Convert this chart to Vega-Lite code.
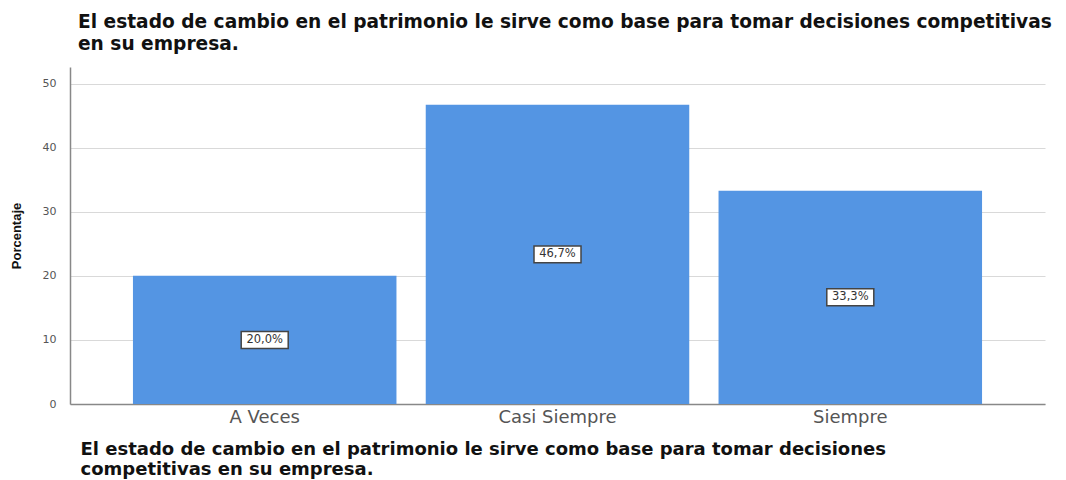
{
  "$schema": "https://vega.github.io/schema/vega-lite/v6.json",
  "width": 975,
  "height": 337,
  "autosize": {"type": "none"},
  "padding": {"left": 70, "top": 67, "right": 21, "bottom": 76},
  "background": "white",
  "title": {
    "text": ["El estado de cambio en el patrimonio le sirve como base para tomar decisiones competitivas", "en su empresa."],
    "anchor": "start",
    "frame": "group",
    "dx": 8,
    "offset": 13,
    "font": "DejaVu Sans",
    "fontSize": 18.6,
    "fontWeight": "bold",
    "color": "#111111",
    "lineHeight": 22
  },
  "data": {
    "values": [
      {"categoria": "A Veces", "porcentaje": 20.0, "etiqueta": "20,0%"},
      {"categoria": "Casi Siempre", "porcentaje": 46.7, "etiqueta": "46,7%"},
      {"categoria": "Siempre", "porcentaje": 33.3, "etiqueta": "33,3%"}
    ]
  },
  "config": {
    "view": {"stroke": null},
    "font": "DejaVu Sans"
  },
  "encoding": {
    "x": {
      "field": "categoria",
      "type": "nominal",
      "sort": null,
      "scale": {"paddingInner": 0.1, "paddingOuter": 0.215},
      "axis": {
        "title": ["El estado de cambio en el patrimonio le sirve como base para tomar decisiones", "competitivas en su empresa."],
        "titleAnchor": "start",
        "titleAlign": "left",
        "titleX": 10,
        "titleY": 45,
        "titleBaseline": "middle",
        "titleFont": "DejaVu Sans",
        "titleFontSize": 18,
        "titleFontWeight": "bold",
        "titleColor": "#111111",
        "titleLineHeight": 20,
        "labelAngle": 0,
        "labelFont": "DejaVu Sans",
        "labelFontSize": 18,
        "labelColor": "#555555",
        "labelPadding": 4,
        "ticks": false,
        "domainColor": "#888888",
        "domainWidth": 1.5,
        "grid": false
      }
    }
  },
  "layer": [
    {
      "mark": {"type": "bar", "color": "#5495e3"},
      "encoding": {
        "y": {
          "field": "porcentaje",
          "type": "quantitative",
          "scale": {"domain": [0, 52.6], "nice": false},
          "axis": {
            "title": "Porcentaje",
            "titleFont": "Liberation Sans",
            "titleFontSize": 13,
            "titleFontWeight": "bold",
            "titleColor": "#111111",
            "titlePadding": 19,
            "values": [0, 10, 20, 30, 40, 50],
            "labelFont": "DejaVu Sans",
            "labelFontSize": 11,
            "labelColor": "#555555",
            "labelPadding": 14,
            "ticks": false,
            "domainColor": "#888888",
            "domainWidth": 1.5,
            "gridColor": "#d9d9d9",
            "gridWidth": 1
          }
        }
      }
    },
    {
      "transform": [{"calculate": "datum.porcentaje / 2", "as": "medio"}],
      "mark": {
        "type": "point",
        "shape": "M-1,-0.36H1V0.36H-1Z",
        "size": 2209,
        "filled": true,
        "fill": "white",
        "fillOpacity": 1,
        "stroke": "#444444",
        "strokeWidth": 1.5,
        "opacity": 1
      },
      "encoding": {
        "y": {"field": "medio", "type": "quantitative"}
      }
    },
    {
      "transform": [{"calculate": "datum.porcentaje / 2", "as": "medio"}],
      "mark": {
        "type": "text",
        "font": "DejaVu Sans",
        "fontSize": 11.5,
        "color": "#333333",
        "baseline": "middle",
        "align": "center"
      },
      "encoding": {
        "y": {"field": "medio", "type": "quantitative"},
        "text": {"field": "etiqueta"}
      }
    }
  ]
}
